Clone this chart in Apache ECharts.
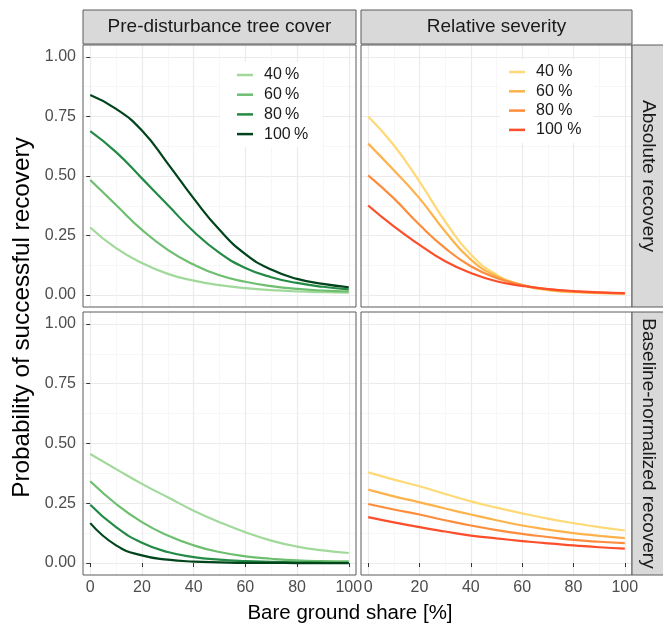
<!DOCTYPE html>
<html>
<head>
<meta charset="utf-8">
<script src="https://cdn.jsdelivr.net/npm/echarts@6/dist/echarts.min.js"></script>
<style>
html,body{margin:0;padding:0;background:#fff;}
#chart{width:663px;height:625px;}
</style>
</head>
<body>
<div id="chart"></div>
<script>
// ---- data ----
const bareGround = [0, 10, 20, 30, 40, 50, 60, 70, 80, 90, 100];
const coverLevels = ['40\u2009%', '60\u2009%', '80\u2009%', '100\u2009%'];
const severityLevels = ['40 %', '60 %', '80 %', '100 %'];
const facetColumns = ['Pre-disturbance tree cover', 'Relative severity'];
const facetRows = ['Absolute recovery', 'Baseline-normalized recovery'];
const xTicks = [0, 20, 40, 60, 80, 100];
const xMinorTicks = [10, 30, 50, 70, 90];
const yTicks = [0, 0.25, 0.5, 0.75, 1];
const yMinorTicks = [0.125, 0.375, 0.625, 0.875];

// Absolute recovery, pre-disturbance tree cover
const coverAbs40 = [0.284, 0.197, 0.135, 0.089, 0.061, 0.042, 0.029, 0.021, 0.015, 0.012, 0.010];
const coverAbs60 = [0.483, 0.378, 0.274, 0.190, 0.128, 0.083, 0.056, 0.038, 0.026, 0.019, 0.015];
const coverAbs80 = [0.688, 0.600, 0.490, 0.378, 0.267, 0.177, 0.114, 0.075, 0.051, 0.035, 0.024];
const coverAbs100 = [0.840, 0.782, 0.691, 0.552, 0.406, 0.274, 0.172, 0.107, 0.068, 0.047, 0.033];
// Absolute recovery, relative severity
const sevAbs40 = [0.750, 0.629, 0.476, 0.309, 0.170, 0.086, 0.042, 0.021, 0.012, 0.008, 0.007];
const sevAbs60 = [0.636, 0.524, 0.406, 0.267, 0.149, 0.079, 0.042, 0.022, 0.014, 0.009, 0.007];
const sevAbs80 = [0.503, 0.406, 0.295, 0.197, 0.121, 0.072, 0.042, 0.025, 0.015, 0.010, 0.007];
const sevAbs100 = [0.376, 0.288, 0.211, 0.142, 0.093, 0.058, 0.039, 0.025, 0.017, 0.011, 0.008];
// Baseline-normalized recovery, pre-disturbance tree cover
const coverNorm40 = [0.456, 0.393, 0.331, 0.275, 0.219, 0.171, 0.129, 0.094, 0.069, 0.053, 0.042];
const coverNorm60 = [0.342, 0.247, 0.171, 0.115, 0.074, 0.046, 0.028, 0.018, 0.011, 0.008, 0.007];
const coverNorm80 = [0.244, 0.150, 0.085, 0.046, 0.025, 0.014, 0.008, 0.005, 0.003, 0.002, 0.001];
const coverNorm100 = [0.167, 0.074, 0.032, 0.014, 0.006, 0.003, 0.001, 0.001, 0.000, 0.000, 0.000];
// Baseline-normalized recovery, relative severity
const sevNorm40 = [0.379, 0.349, 0.321, 0.289, 0.258, 0.232, 0.208, 0.186, 0.167, 0.150, 0.136];
const sevNorm60 = [0.307, 0.279, 0.254, 0.228, 0.203, 0.179, 0.157, 0.140, 0.125, 0.114, 0.104];
const sevNorm80 = [0.247, 0.224, 0.203, 0.179, 0.157, 0.138, 0.122, 0.109, 0.097, 0.089, 0.083];
const sevNorm100 = [0.192, 0.170, 0.150, 0.132, 0.115, 0.103, 0.092, 0.082, 0.074, 0.066, 0.060];

const greenColors = ['#a1d99b', '#6dbf6f', '#238b45', '#00441b'];
const orangeColors = ['#fed976', '#feb24c', '#fd8d3c', '#fc4e2a'];

// ---- layout ----
const FONT = 'Liberation Sans, Arial, sans-serif';
const panels = [
  {left: 83, top: 45, width: 273, height: 262},
  {left: 361, top: 45, width: 271, height: 262},
  {left: 83, top: 312, width: 273, height: 263},
  {left: 361, top: 312, width: 271, height: 263}
];
const X_MIN = -2.8, X_MAX = 102.8, Y_MIN = -0.05, Y_MAX = 1.05;

const panelSeries = [
  {grid: 0, names: coverLevels, colors: greenColors, values: [coverAbs40, coverAbs60, coverAbs80, coverAbs100]},
  {grid: 1, names: severityLevels, colors: orangeColors, values: [sevAbs40, sevAbs60, sevAbs80, sevAbs100]},
  {grid: 2, names: coverLevels, colors: greenColors, values: [coverNorm40, coverNorm60, coverNorm80, coverNorm100]},
  {grid: 3, names: severityLevels, colors: orangeColors, values: [sevNorm40, sevNorm60, sevNorm80, sevNorm100]}
];

const grids = panels.map(p => ({left: p.left, top: p.top, width: p.width, height: p.height, containLabel: false}));

const xAxes = [], yAxes = [];
panels.forEach((p, g) => {
  const bottomRow = g >= 2, leftCol = g % 2 === 0;
  xAxes.push({
    type: 'value', gridIndex: g, min: X_MIN, max: X_MAX, position: 'bottom',
    axisLine: {show: false},
    axisTick: {show: bottomRow, customValues: xTicks, length: 4, lineStyle: {color: '#333333', width: 1}},
    axisLabel: {show: bottomRow, customValues: xTicks, color: '#4d4d4d', fontSize: 16, fontFamily: FONT, margin: 5},
    splitLine: {show: true, lineStyle: {color: '#ebebeb', width: 1.2}}
  });
  yAxes.push({
    type: 'value', gridIndex: g, min: Y_MIN, max: Y_MAX, position: 'left',
    axisLine: {show: false},
    axisTick: {show: leftCol, customValues: yTicks, length: 4, lineStyle: {color: '#333333', width: 1}},
    axisLabel: {show: leftCol, customValues: yTicks, color: '#4d4d4d', fontSize: 16, fontFamily: FONT, margin: 7,
      formatter: v => v.toFixed(2)},
    splitLine: {show: true, lineStyle: {color: '#ebebeb', width: 1.2}}
  });
});
panels.forEach((p, g) => {
  xAxes.push({
    type: 'value', gridIndex: g, min: X_MIN, max: X_MAX, position: 'top',
    axisLine: {show: false}, axisLabel: {show: false},
    axisTick: {show: false, customValues: xMinorTicks},
    splitLine: {show: true, lineStyle: {color: '#f4f4f4', width: 0.7}}
  });
  yAxes.push({
    type: 'value', gridIndex: g, min: Y_MIN, max: Y_MAX, position: 'right',
    axisLine: {show: false}, axisLabel: {show: false},
    axisTick: {show: false, customValues: yMinorTicks},
    splitLine: {show: true, lineStyle: {color: '#f4f4f4', width: 0.7}}
  });
});

const series = [];
panelSeries.forEach(ps => {
  ps.values.forEach((vals, i) => {
    series.push({
      type: 'line', name: ps.names[i], xAxisIndex: ps.grid, yAxisIndex: ps.grid,
      data: bareGround.map((x, k) => [x, vals[k]]),
      smooth: 0.5, showSymbol: false, symbol: 'none',
      lineStyle: {color: ps.colors[i], width: 2.2},
      itemStyle: {color: ps.colors[i]},
      emphasis: {disabled: true}, silent: true, z: 3
    });
  });
});

const legendCommon = {
  orient: 'vertical', icon: 'rect', itemWidth: 16, itemHeight: 2.5,
  backgroundColor: '#ffffff', selectedMode: false,
  textStyle: {fontSize: 16, fontFamily: FONT, color: '#1a1a1a', lineHeight: 16, padding: [0, 0, 0, 6]}
};
const legends = [
  Object.assign({}, legendCommon, {data: coverLevels, left: 220, top: 62, itemGap: 3.7, padding: [5, 14, 5, 17]}),
  Object.assign({}, legendCommon, {data: severityLevels, left: 500, top: 59, itemGap: 3.3, padding: [5, 12, 5, 9]})
];

const BORDER = '#5a5a5a';
const graphics = [];
panels.forEach(p => {
  graphics.push({type: 'rect', z: 50, silent: true,
    shape: {x: p.left, y: p.top, width: p.width, height: p.height},
    style: {fill: null, stroke: BORDER, lineWidth: 1}});
});
// top strips
[0, 1].forEach(c => {
  const p = panels[c];
  graphics.push({type: 'rect', z: 50, silent: true,
    shape: {x: p.left, y: 10, width: p.width, height: 34},
    style: {fill: '#d9d9d9', stroke: BORDER, lineWidth: 1}});
  graphics.push({type: 'text', z: 51, silent: true, x: p.left + p.width / 2, y: 27,
    style: {text: facetColumns[c], fill: '#1a1a1a', font: '19px ' + FONT, textAlign: 'center', textVerticalAlign: 'middle'}});
});
// right strips
[0, 1].forEach(r => {
  const p = panels[r * 2 + 1];
  graphics.push({type: 'rect', z: 50, silent: true,
    shape: {x: p.left + p.width, y: p.top, width: 40, height: p.height},
    style: {fill: '#d9d9d9', stroke: BORDER, lineWidth: 1}});
  graphics.push({type: 'text', z: 51, silent: true, x: p.left + p.width + 16.5, y: p.top + p.height / 2,
    rotation: -Math.PI / 2,
    style: {text: facetRows[r], fill: '#1a1a1a', font: '19px ' + FONT, textAlign: 'center', textVerticalAlign: 'middle'}});
});
// axis titles
graphics.push({type: 'text', z: 51, silent: true, x: 350, y: 613,
  style: {text: 'Bare ground share [%]', fill: '#000000', font: '20.5px ' + FONT, textAlign: 'center', textVerticalAlign: 'middle'}});
graphics.push({type: 'text', z: 51, silent: true, x: 22.5, y: 317.5, rotation: Math.PI / 2,
  style: {text: 'Probability of successful recovery', fill: '#000000', font: '24.3px ' + FONT, textAlign: 'center', textVerticalAlign: 'middle'}});

const chart = echarts.init(document.getElementById('chart'), null, {renderer: 'canvas'});
chart.setOption({
  animation: false,
  backgroundColor: '#ffffff',
  grid: grids,
  xAxis: xAxes,
  yAxis: yAxes,
  legend: legends,
  series: series,
  graphic: graphics
});
</script>
</body>
</html>
